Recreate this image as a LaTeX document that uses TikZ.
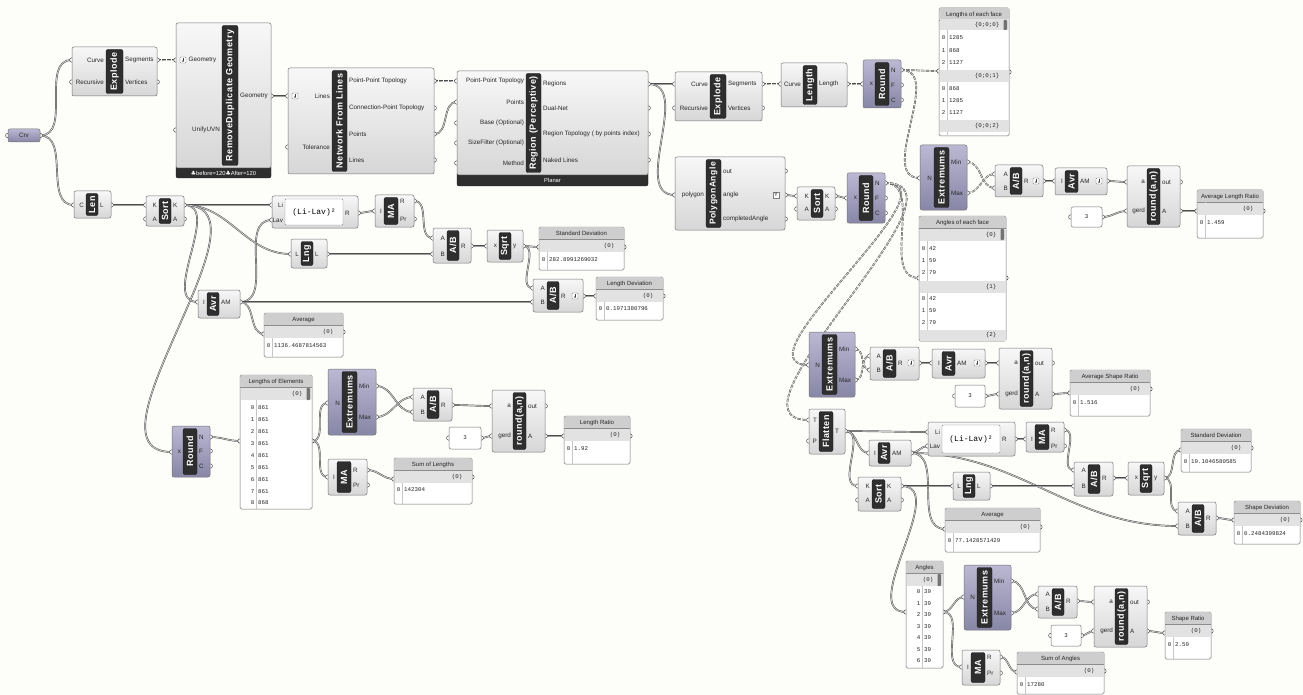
\documentclass[tikz,border=0pt]{standalone}
\usepackage{fontspec}
\setmainfont{Liberation Sans}
\newfontfamily\panelfont{Liberation Mono}
\newfontfamily\symfont{DejaVu Sans}
\newfontfamily\barfont[LetterSpace=6]{Liberation Sans}
\usetikzlibrary{fit,arrows.meta}

\definecolor{ghpurpleA}{RGB}{186,184,210}
\definecolor{ghpurpleB}{RGB}{136,134,166}
\definecolor{ghtitle}{RGB}{206,206,206}
\definecolor{ghband}{RGB}{226,226,226}
\definecolor{ghpaper}{RGB}{253,253,250}

\pgfdeclarelayer{wires}
\pgfdeclarelayer{knobs}
\pgfsetlayers{wires,knobs,main}

\tikzset{
  ghbody/.style={draw=black!55, line width=0.5pt, rounded corners=2pt, top color=gray!6, bottom color=gray!32, inner sep=0pt},
  ghpurple/.style={ghbody, top color=ghpurpleA, bottom color=ghpurpleB},
  ghbar/.style={draw=black!90, fill=black!82, rounded corners=2pt, inner sep=0pt},
  ghfoot/.style={draw=black!90, fill=black!82, rounded corners=2pt, inner sep=0pt},
  bartext/.style={rotate=90, text=white, font=\barfont\bfseries\fontsize{9}{9}\selectfont, inner sep=0pt},
  foottext/.style={text=white, font=\fontsize{5.8}{6}\selectfont, inner sep=0pt},
  portlabel/.style={font=\fontsize{6.3}{7}\selectfont, inner sep=0.5pt, text=black!85},
  knob/.style={draw=black!70, fill=white, line width=0.5pt},
  panelbody/.style={draw=black!55, line width=0.5pt, fill=white, rounded corners=1.5pt, inner sep=0pt},
  numbody/.style={draw=black!55, line width=0.5pt, fill=white, rounded corners=2pt, inner sep=0pt},
  pantext/.style={font=\panelfont\fontsize{5.8}{6}\selectfont, inner sep=0.5pt, text=black!85},
  pantitle/.style={font=\fontsize{6}{7}\selectfont, inner sep=0pt, text=black!85},
  exprbox/.style={draw=black!45, fill=white, rounded corners=1pt, inner sep=0pt},
  exprtext/.style={font=\panelfont\fontsize{8}{8}\selectfont, inner sep=0pt},
  wire/.style={draw=black!70, double=gray!40, double distance=0.8pt, line width=0.45pt},
  treewire/.style={wire, dash pattern=on 3.6pt off 1.3pt},
  flow/.style={out=0, in=180},
}

% component body with its black name bar
\newcommand{\ghcomp}[9][ghbody]{%
  \node[#1, fit={(#3,#4) (#5,#6)}] (#2) {};
  \node[ghbar, fit={(#7,#4+2.5) (#8,#6-2.5)}] (#2-bar) {};
  \node[bartext] at (#2-bar.center) {#9};
}
\newcommand{\ghknob}[1]{%
  \begin{pgfonlayer}{knobs}\draw[knob] (#1) circle (2.2);\end{pgfonlayer}}
% input and output ports
\newcommand{\ghin}[4]{%
  \coordinate (#1-#2) at (#1.west |- 0,#3); \ghknob{#1-#2}
  \node[portlabel, anchor=east, xshift=-1.2pt] at (#1-bar.west |- 0,#3) {#4};
}
\newcommand{\ghout}[4]{%
  \coordinate (#1-#2) at (#1.east |- 0,#3); \ghknob{#1-#2}
  \node[portlabel, anchor=west, xshift=1.2pt] at (#1-bar.east |- 0,#3) {#4};
}
% panels
\newcommand{\ghpanel}[7][8]{%
  \def\pxa{#3}\def\pxb{#5}\def\pdv{#1}%
  \node[panelbody, fit={(#3,#4) (#5,#6)}] (#2) {};
  \fill[ghtitle] (#3+0.5,#4+0.5) rectangle (#5-0.5,#4+12.5);
  \draw[black!45, line width=0.4pt] (#3,#4+12.5) -- (#5,#4+12.5);
  \draw[black!22, line width=0.4pt] (#3+#1,#4+12.5) -- (#3+#1,#6-0.5);
  \node[pantitle] at ({(#3+#5)/2},#4+6.7) {#7};
}
\newcommand{\pband}[3]{%
  \fill[ghband] (\pxa+0.5,#1) rectangle (\pxb-0.5,#2);
  \node[pantext, anchor=east] at (\pxb-9,{(#1+#2)/2}) {#3};
}
\newcommand{\prow}[3]{%
  \node[pantext, anchor=east] at (\pxa+\pdv-1,#1) {#2};
  \node[pantext, anchor=west] at (\pxa+\pdv+1.5,#1) {#3};
}
\newcommand{\pscroll}[2]{\fill[black!55, rounded corners=0.8pt] (\pxb-5.5,#1) rectangle (\pxb-2,#2);}
\newcommand{\panelio}[3]{%
  \coordinate (#1-in) at (\pxa,#2); \ghknob{#1-in}
  \coordinate (#1-out) at (\pxb,#3); \ghknob{#1-out}
}
% number slider box
\newcommand{\ghnum}[6]{%
  \node[numbody, fit={(#2,#3) (#4,#5)}] (#1) {};
  \node[pantext] at (#1.center) {#6};
  \coordinate (#1-in) at (#1.west); \ghknob{#1-in}
  \coordinate (#1-out) at (#1.east); \ghknob{#1-out}
}
% graft / flatten icon
\newcommand{\ghicon}[2]{%
  \draw[black!55, fill=white, rounded corners=0.8pt, line width=0.4pt] (#1-3,#2-3) rectangle (#1+3,#2+3);
  \draw[black!75, line width=0.5pt, -{Stealth[length=1.6pt, width=2.2pt]}] (#1,#2-2) -- (#1,#2+2);
}

\begin{document}
\begin{tikzpicture}[x=1pt, y=-1pt]
\useasboundingbox (0,0) rectangle (1303,695);
\begin{pgfonlayer}{wires}
  \fill[ghpaper] (0,0) rectangle (1303,695);
\end{pgfonlayer}

% ---- input curve, network and regions
\node[ghpurple, fit={(8,129) (40,142)}] (crv) {};
\node[portlabel] at (crv.center) {Crv};
\coordinate (crv-in) at (crv.west); \ghknob{crv-in}
\coordinate (crv-out) at (crv.east); \ghknob{crv-out}

\ghcomp{exA}{72}{47}{157}{96}{106}{123}{Explode}
\ghin{exA}{crv}{60}{Curve}
\ghin{exA}{rec}{82}{Recursive}
\ghout{exA}{seg}{60}{Segments}
\ghout{exA}{ver}{82}{Vertices}

\node[ghfoot, fit={(176,165) (271,178)}] (rdg-foot) {};
\node[foottext] at ([yshift=-1.5pt]rdg-foot.center) {{\symfont ♣}before=120{\symfont ♣}After=120};
\ghcomp{rdg}{176}{23}{271}{168}{222}{238}{RemoveDuplicate Geometry}
\coordinate (rdg-gin) at (176,60); \ghknob{rdg-gin}
\ghicon{183}{60}
\node[portlabel, anchor=west] at (188,60) {Geometry};
\ghin{rdg}{uni}{130}{UnifyUVN}
\ghout{rdg}{gout}{96}{Geometry}

\ghcomp{nfl}{288}{68}{434}{174}{332}{347}{Network From Lines}
\ghin{nfl}{lin}{96}{Lines}
\ghicon{295}{96}
\ghin{nfl}{tol}{147}{Tolerance}
\ghout{nfl}{ppt}{81}{Point-Point Topology}
\ghout{nfl}{cpt}{108}{Connection-Point Topology}
\ghout{nfl}{pts}{134}{Points}
\ghout{nfl}{lns}{160}{Lines}

\node[ghfoot, fit={(457,172) (648,186)}] (reg-foot) {};
\node[foottext] at ([yshift=-1.5pt]reg-foot.center) {Planar};
\ghcomp{reg}{457}{71}{648}{175}{526}{541}{Region (Perceptive)}
\ghin{reg}{ppt}{81}{Point-Point Topology}
\ghin{reg}{pts}{102}{Points}
\ghin{reg}{base}{123}{Base (Optional)}
\ghin{reg}{size}{143}{SizeFilter (Optional)}
\ghin{reg}{meth}{163}{Method}
\ghout{reg}{rgn}{84}{Regions}
\ghout{reg}{dual}{108}{Dual-Net}
\ghout{reg}{rtop}{134}{Region Topology ( by points index)}
\ghout{reg}{nak}{160}{Naked Lines}

% ---- face lengths
\ghcomp{exB}{675}{72}{762}{121}{710}{726}{Explode}
\ghin{exB}{crv}{84}{Curve}
\ghin{exB}{rec}{108}{Recursive}
\ghout{exB}{seg}{84}{Segments}
\ghout{exB}{ver}{108}{Vertices}

\ghcomp{lnt}{781}{63}{847}{107}{803}{817}{Length}
\ghin{lnt}{crv}{84}{Curve}
\ghout{lnt}{len}{84}{Length}

\ghcomp[ghpurple]{rnA}{863}{60}{901}{108}{875}{889}{Round}
\ghin{rnA}{x}{84}{x}
\ghout{rnA}{n}{70}{N}
\ghout{rnA}{f}{85}{F}
\ghout{rnA}{c}{100}{C}

\ghpanel{pLF}{939}{8}{1009}{136}{Lengths of each face}
\pband{19.5}{30}{\{0;0;0\}} \pscroll{20}{30}
\prow{38}{0}{1285} \prow{51}{1}{868} \prow{63}{2}{1127}
\pband{70}{82}{\{0;0;1\}}
\prow{89}{0}{868} \prow{101}{1}{1285} \prow{113}{2}{1127}
\pband{120}{132}{\{0;0;2\}}
\panelio{pLF}{71}{72}

% ---- face angles
\ghcomp{pga}{675}{157}{785}{230}{706}{721}{{\fontsize{8.5}{9}\selectfont PolygonAngle}}
\ghin{pga}{poly}{195}{polygon}
\ghout{pga}{out}{171}{out}
\ghout{pga}{ang}{195}{angle}
\ghout{pga}{cang}{219}{completedAngle}
\node[draw=black!50, fill=white, inner sep=0pt, minimum size=6.5pt, font=\fontsize{5}{5}\selectfont] (pga-yicon) at (776,195) {Y};

\ghcomp{srtB}{797}{187}{835}{220}{811}{823}{Sort}
\ghin{srtB}{kin}{196}{K}
\ghin{srtB}{ain}{209}{A}
\ghout{srtB}{kout}{196}{K}
\ghout{srtB}{aout}{209}{A}

\ghcomp[ghpurple]{rnB}{847}{173}{885}{223}{859}{873}{Round}
\ghin{rnB}{x}{198}{x}
\ghout{rnB}{n}{183}{N}
\ghout{rnB}{f}{198}{F}
\ghout{rnB}{c}{213}{C}

\ghcomp[ghpurple]{extA}{920}{145}{967}{210}{934}{949}{Extremums}
\ghin{extA}{n}{178}{N}
\ghout{extA}{min}{162}{Min}
\ghout{extA}{max}{193}{Max}

\ghpanel{pAF}{919}{216}{1006}{341}{Angles of each face}
\pband{229}{241}{\{0\}} \pscroll{229}{240}
\prow{249}{0}{42} \prow{261}{1}{59} \prow{273}{2}{79}
\pband{281}{293}{\{1\}}
\prow{299}{0}{42} \prow{311}{1}{59} \prow{323}{2}{79}
\pband{330}{340.5}{\{2\}}
\panelio{pAF}{278}{278}

\ghcomp{abA}{995}{165}{1043}{197}{1010}{1022}{A/B}
\ghin{abA}{a}{174}{A}
\ghin{abA}{b}{188}{B}
\ghout{abA}{r}{181}{R}
\ghicon{1036}{181}

\ghcomp{avA}{1055}{168}{1107}{195}{1065}{1078}{Avr}
\ghin{avA}{i}{181}{I}
\ghout{avA}{am}{181}{AM}
\ghicon{1099}{181}

\ghcomp{rdA}{1127}{166}{1180}{227}{1147}{1160}{round(a,n)}
\ghin{rdA}{a}{182}{a}
\ghin{rdA}{gerd}{211}{gerd}
\ghout{rdA}{out}{182}{out}
\ghout{rdA}{res}{211}{A}
\ghnum{n3A}{1071}{207}{1102}{227}{3}

\ghpanel{pALR}{1197}{190}{1263}{238}{Average Length Ratio}
\pband{203}{215}{(0)}
\prow{223}{0}{1.459}
\panelio{pALR}{211}{211}

% ---- element lengths
\ghcomp{lenA}{74}{191}{111}{218}{86}{98}{Len}
\ghin{lenA}{c}{205}{C}
\ghout{lenA}{l}{205}{L}

\ghcomp{srtA}{146}{196}{184}{226}{159}{171}{Sort}
\ghin{srtA}{kin}{205}{K}
\ghin{srtA}{ain}{219}{A}
\ghout{srtA}{kout}{205}{K}
\ghout{srtA}{aout}{219}{A}

\node[ghbody, fit={(272,196) (358,228)}] (exprA) {};
\node[exprbox, fit={(285,199) (343,225)}] (exprA-bar) {};
\node[exprtext] at (exprA-bar.center) {(Li-Lav)²};
\ghin{exprA}{li}{205}{Li}
\ghin{exprA}{lav}{220}{Lav}
\ghout{exprA}{r}{213}{R}

\ghcomp{maA}{375}{195}{414}{227}{384}{398}{MA}
\ghin{maA}{i}{211}{I}
\ghout{maA}{r}{201}{R}
\ghout{maA}{pr}{219}{Pr}

\ghcomp{lngA}{291}{239}{327}{268}{301}{313}{Lng}
\ghin{lngA}{lin}{254}{L}
\ghout{lngA}{lout}{254}{L}

\ghcomp{abB}{433}{228}{471}{263}{447}{459}{A/B}
\ghin{abB}{a}{238}{A}
\ghin{abB}{b}{254}{B}
\ghout{abB}{r}{246}{R}

\ghcomp{sqA}{487}{230}{523}{262}{499}{511}{Sqrt}
\ghin{sqA}{x}{246}{x}
\ghout{sqA}{y}{246}{y}

\ghpanel{pSD1}{539}{227}{624}{270}{Standard Deviation}
\pband{240}{252}{(0)}
\prow{260}{0}{282.8991269032}
\panelio{pSD1}{247}{247}

\ghcomp{abC}{533}{279}{583}{312}{547}{559}{A/B}
\ghin{abC}{a}{288}{A}
\ghin{abC}{b}{302}{B}
\ghout{abC}{r}{296}{R}
\ghicon{575}{296}

\ghpanel{pLD}{596}{277}{663}{320}{Length Deviation}
\pband{290}{302}{(0)}
\prow{309}{0}{0.1971380796}
\panelio{pLD}{296}{296}

\ghcomp{avB}{198}{290}{240}{318}{207}{219}{Avr}
\ghin{avB}{i}{302}{I}
\ghout{avB}{am}{302}{AM}

\ghpanel{pAv1}{264}{313}{343}{357}{Average}
\pband{326}{338}{(0)}
\prow{346}{0}{1136.4687814563}
\panelio{pAv1}{334}{332}

\ghcomp[ghpurple]{rnC}{172}{426}{210}{477}{183}{197}{Round}
\ghin{rnC}{x}{452}{x}
\ghout{rnC}{n}{437}{N}
\ghout{rnC}{f}{451}{F}
\ghout{rnC}{c}{466}{C}

\ghpanel[16]{pLE}{240}{375}{312}{509}{Lengths of Elements}
\pband{388}{400}{(0)} \pscroll{388}{400}
\prow{408}{0}{861} \prow{420}{1}{861} \prow{432}{2}{861}
\prow{444}{3}{861} \prow{456}{4}{861} \prow{468}{5}{861}
\prow{480}{6}{861} \prow{492}{7}{861} \prow{503}{8}{868}
\panelio{pLE}{441}{441}

\ghcomp[ghpurple]{extB}{328}{369}{376}{435}{342}{357}{Extremums}
\ghin{extB}{n}{403}{N}
\ghout{extB}{min}{386}{Min}
\ghout{extB}{max}{417}{Max}

\ghcomp{abD}{413}{388}{452}{421}{427}{439}{A/B}
\ghin{abD}{a}{397}{A}
\ghin{abD}{b}{412}{B}
\ghout{abD}{r}{405}{R}

\ghcomp{rdB}{492}{390}{545}{452}{513}{526}{round(a,n)}
\ghin{rdB}{a}{406}{a}
\ghin{rdB}{gerd}{436}{gerd}
\ghout{rdB}{out}{406}{out}
\ghout{rdB}{res}{436}{A}
\ghnum{n3B}{449}{427}{481}{449}{3}

\ghpanel{pLR}{564}{416}{630}{464}{Length Ratio}
\pband{429}{441}{(0)}
\prow{449}{0}{1.92}
\panelio{pLR}{436}{436}

\ghcomp{maB}{328}{459}{367}{495}{337}{351}{MA}
\ghin{maB}{i}{477}{I}
\ghout{maB}{r}{470}{R}
\ghout{maB}{pr}{485}{Pr}

\ghpanel{pSL}{394}{458}{472}{504}{Sum of Lengths}
\pband{471}{483}{(0)}
\prow{490}{0}{142304}
\panelio{pSL}{479}{477}

% ---- shape ratios
\ghcomp[ghpurple]{extC}{809}{332}{855}{397}{822}{837}{Extremums}
\ghin{extC}{n}{365}{N}
\ghout{extC}{min}{349}{Min}
\ghout{extC}{max}{380}{Max}

\ghcomp{abE}{870}{347}{919}{380}{883}{896}{A/B}
\ghin{abE}{a}{356}{A}
\ghin{abE}{b}{370}{B}
\ghout{abE}{r}{363}{R}
\ghicon{911}{363}

\ghcomp{avC}{932}{349}{985}{378}{942}{955}{Avr}
\ghin{avC}{i}{363}{I}
\ghout{avC}{am}{363}{AM}
\ghicon{977}{363}

\ghcomp{rdC}{999}{348}{1052}{409}{1020}{1033}{round(a,n)}
\ghin{rdC}{a}{363}{a}
\ghin{rdC}{gerd}{394}{gerd}
\ghout{rdC}{out}{363}{out}
\ghout{rdC}{res}{394}{A}
\ghnum{n3C}{955}{385}{985}{407}{3}

\ghpanel{pASR}{1070}{370}{1150}{416}{Average Shape Ratio}
\pband{383}{395}{(0)}
\prow{403}{0}{1.516}
\panelio{pASR}{393}{389}

\ghcomp{flt}{809}{409}{845}{454}{819}{833}{Flatten}
\ghin{flt}{tin}{420}{T}
\ghin{flt}{p}{441}{P}
\ghout{flt}{tout}{431}{T}

\node[ghbody, fit={(928,422) (1015,456)}] (exprB) {};
\node[exprbox, fit={(942,425) (1000,453)}] (exprB-bar) {};
\node[exprtext] at (exprB-bar.center) {(Li-Lav)²};
\ghin{exprB}{li}{432}{Li}
\ghin{exprB}{lav}{446}{Lav}
\ghout{exprB}{r}{439}{R}

\ghcomp{maC}{1026}{422}{1064}{452}{1035}{1049}{MA}
\ghin{maC}{i}{439}{I}
\ghout{maC}{r}{430}{R}
\ghout{maC}{pr}{446}{Pr}

\ghcomp{avD}{869}{440}{911}{466}{878}{890}{Avr}
\ghin{avD}{i}{453}{I}
\ghout{avD}{am}{453}{AM}

\ghcomp{lngB}{953}{472}{990}{500}{963}{975}{Lng}
\ghin{lngB}{lin}{486}{L}
\ghout{lngB}{lout}{486}{L}

\ghcomp{srtC}{858}{477}{901}{511}{872}{885}{Sort}
\ghin{srtC}{kin}{486}{K}
\ghin{srtC}{ain}{500}{A}
\ghout{srtC}{kout}{486}{K}
\ghout{srtC}{aout}{500}{A}

\ghcomp{abF}{1074}{462}{1113}{496}{1088}{1100}{A/B}
\ghin{abF}{a}{470}{A}
\ghin{abF}{b}{486}{B}
\ghout{abF}{r}{478}{R}

\ghcomp{sqB}{1128}{462}{1164}{495}{1140}{1152}{Sqrt}
\ghin{sqB}{x}{478}{x}
\ghout{sqB}{y}{478}{y}

\ghpanel{pSD2}{1181}{429}{1251}{472}{Standard Deviation}
\pband{442}{454}{(0)}
\prow{462}{0}{19.1046580585}
\panelio{pSD2}{450}{448}

\ghcomp{abG}{1178}{502}{1216}{535}{1192}{1204}{A/B}
\ghin{abG}{a}{511}{A}
\ghin{abG}{b}{526}{B}
\ghout{abG}{r}{518}{R}

\ghpanel{pSDv}{1234}{501}{1300}{544}{Shape Deviation}
\pband{514}{526}{(0)}
\prow{534}{0}{0.2484399824}
\panelio{pSDv}{520}{520}

\ghpanel{pAv2}{945}{508}{1040}{552}{Average}
\pband{521}{533}{(0)}
\prow{541}{0}{77.1428571429}
\panelio{pAv2}{529}{527}

\ghpanel[16]{pAng}{906}{561}{943}{668}{Angles}
\pband{574}{586}{(0)} \pscroll{574}{586}
\prow{592}{0}{39} \prow{604}{1}{39} \prow{615}{2}{39} \prow{627}{3}{39}
\prow{638}{4}{39} \prow{650}{5}{39} \prow{661}{6}{39}
\panelio{pAng}{612}{612}

\ghcomp[ghpurple]{extD}{964}{565}{1011}{630}{977}{992}{Extremums}
\ghin{extD}{n}{597}{N}
\ghout{extD}{min}{581}{Min}
\ghout{extD}{max}{613}{Max}

\ghcomp{abH}{1038}{586}{1077}{618}{1052}{1064}{A/B}
\ghin{abH}{a}{594}{A}
\ghin{abH}{b}{609}{B}
\ghout{abH}{r}{601}{R}

\ghcomp{rdD}{1094}{586}{1147}{647}{1115}{1128}{round(a,n)}
\ghin{rdD}{a}{602}{a}
\ghin{rdD}{gerd}{631}{gerd}
\ghout{rdD}{out}{602}{out}
\ghout{rdD}{res}{631}{A}
\ghnum{n3D}{1051}{625}{1081}{646}{3}

\ghpanel{pSR}{1165}{612}{1211}{659}{Shape Ratio}
\pband{625}{637}{(0)}
\prow{645}{0}{2.59}
\panelio{pSR}{633}{631}

\ghcomp{maD}{962}{650}{1000}{685}{971}{985}{MA}
\ghin{maD}{i}{667}{I}
\ghout{maD}{r}{657}{R}
\ghout{maD}{pr}{673}{Pr}

\ghpanel{pSA}{1017}{652}{1104}{694}{Sum of Angles}
\pband{665}{677}{(0)}
\prow{685}{0}{17280}
\panelio{pSA}{672}{671}

% ---- wires
\begin{pgfonlayer}{wires}
  \draw[wire] (crv-out) to[flow] (exA-crv);
  \draw[wire] (crv-out) to[flow] (lenA-c);
  \draw[treewire] (exA-seg) to[flow] (rdg-gin);
  \draw[wire, line width=0.7pt] (rdg-gout) to[flow] (nfl-lin);
  \draw[treewire] (nfl-ppt) to[flow] (reg-ppt);
  \draw[wire] (nfl-pts) to[flow] (reg-pts);
  \draw[wire] (reg-rgn) to[flow] (exB-crv);
  \draw[wire] (reg-rgn) to[flow] (pga-poly);
  % lengths of faces
  \draw[treewire] (exB-seg) to[flow] (lnt-crv);
  \draw[treewire] (lnt-len) to[flow] (rnA-x);
  \draw[treewire] (rnA-n) to[flow] (pLF-in);
  \draw[treewire] (rnA-n) to[flow] (extA-n);
  \draw[treewire] (extA-min) to[flow] (abA-b);
  \draw[treewire] (extA-max) to[flow] (abA-a);
  \draw[wire] (abA-r) to[flow] (avA-i);
  \draw[wire] (avA-am) to[flow] (rdA-a);
  \draw[wire] (n3A-out) to[flow] (rdA-gerd);
  \draw[wire] (rdA-res) to[flow] (pALR-in);
  % angles of faces
  \draw[wire] (pga-ang) to[flow] (srtB-kin);
  \draw[wire] (srtB-kout) to[flow] (rnB-x);
  \draw[treewire] (rnB-n) to[flow] (pAF-in);
  \draw[treewire] (rnB-n) to[flow] (extC-n);
  \draw[treewire] (rnB-n) to[flow] (flt-tin);
  \draw[treewire] (extC-min) to[flow] (abE-b);
  \draw[treewire] (extC-max) to[flow] (abE-a);
  \draw[wire] (abE-r) to[flow] (avC-i);
  \draw[wire] (avC-am) to[flow] (rdC-a);
  \draw[wire] (n3C-out) to[flow] (rdC-gerd);
  \draw[wire] (rdC-res) to[flow] (pASR-in);
  % element lengths
  \draw[wire] (lenA-l) to[flow] (srtA-kin);
  \draw[wire] (srtA-kout) to[flow] (exprA-li);
  \draw[wire] (srtA-kout) to[flow] (lngA-lin);
  \draw[wire] (srtA-kout) to[flow] (avB-i);
  \draw[wire] (srtA-kout) to[flow] (rnC-x);
  \draw[wire] (avB-am) to[flow] (exprA-lav);
  \draw[wire] (avB-am) to[flow] (abC-b);
  \draw[wire] (avB-am) to[flow] (pAv1-in);
  \draw[wire] (exprA-r) to[flow] (maA-i);
  \draw[wire] (maA-r) to[flow] (abB-a);
  \draw[wire] (lngA-lout) to[flow] (abB-b);
  \draw[wire] (abB-r) to[flow] (sqA-x);
  \draw[wire] (sqA-y) to[flow] (pSD1-in);
  \draw[wire] (sqA-y) to[flow] (abC-a);
  \draw[wire] (abC-r) to[flow] (pLD-in);
  \draw[wire] (rnC-n) to[flow] (pLE-in);
  \draw[wire] (pLE-out) to[flow] (extB-n);
  \draw[wire] (pLE-out) to[flow] (maB-i);
  \draw[wire] (extB-min) to[flow] (abD-b);
  \draw[wire] (extB-max) to[flow] (abD-a);
  \draw[wire] (abD-r) to[flow] (rdB-a);
  \draw[wire] (n3B-out) to[flow] (rdB-gerd);
  \draw[wire] (rdB-res) to[flow] (pLR-in);
  \draw[wire] (maB-r) to[flow] (pSL-in);
  % angle deviation
  \draw[wire] (flt-tout) to[flow] (exprB-li);
  \draw[wire] (flt-tout) to[flow] (avD-i);
  \draw[wire] (flt-tout) to[flow] (srtC-kin);
  \draw[wire] (avD-am) to[flow] (exprB-lav);
  \draw[wire] (avD-am) to[flow] (abG-b);
  \draw[wire] (avD-am) to[flow] (pAv2-in);
  \draw[wire] (exprB-r) to[flow] (maC-i);
  \draw[wire] (maC-r) to[flow] (abF-a);
  \draw[wire] (srtC-kout) to[flow] (lngB-lin);
  \draw[wire] (srtC-kout) to[flow] (pAng-in);
  \draw[wire] (lngB-lout) to[flow] (abF-b);
  \draw[wire] (abF-r) to[flow] (sqB-x);
  \draw[wire] (sqB-y) to[flow] (pSD2-in);
  \draw[wire] (sqB-y) to[flow] (abG-a);
  \draw[wire] (abG-r) to[flow] (pSDv-in);
  \draw[wire] (pAng-out) to[flow] (extD-n);
  \draw[wire] (pAng-out) to[flow] (maD-i);
  \draw[wire] (extD-min) to[flow] (abH-b);
  \draw[wire] (extD-max) to[flow] (abH-a);
  \draw[wire] (abH-r) to[flow] (rdD-a);
  \draw[wire] (n3D-out) to[flow] (rdD-gerd);
  \draw[wire] (rdD-res) to[flow] (pSR-in);
  \draw[wire] (maD-r) to[flow] (pSA-in);
\end{pgfonlayer}
\end{tikzpicture}
\end{document}
